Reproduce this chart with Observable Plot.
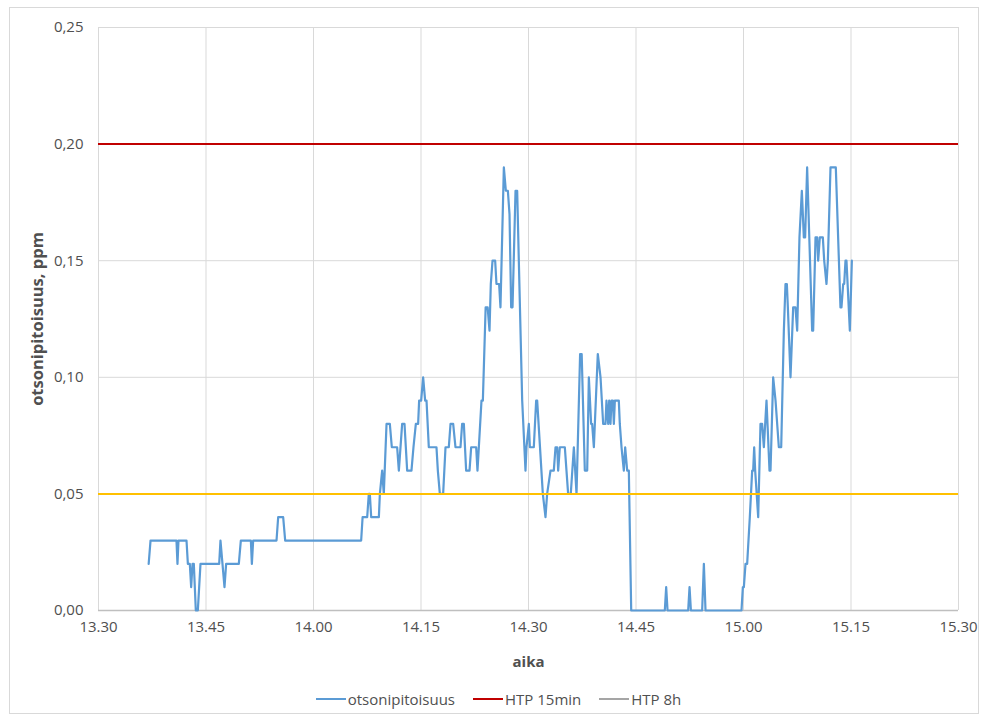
<!DOCTYPE html>
<html>
<head>
<meta charset="utf-8">
<script src="https://cdn.jsdelivr.net/npm/d3@7"></script>
<script src="https://cdn.jsdelivr.net/npm/@observablehq/plot@0.6"></script>
<style>
  html, body { margin: 0; padding: 0; background: #fff; }
  #chart { position: relative; width: 987px; height: 720px; font-family: "Open Sans", sans-serif; color: #505050; overflow: hidden; }
  #frame { position: absolute; left: 9px; top: 7px; width: 970px; height: 707px; border: 1px solid #d9d9d9; box-sizing: border-box; }
  #plot { position: absolute; left: 0; top: 0; }
  #plot svg { background: transparent; overflow: visible; }
  g[aria-label="x-axis label"] text { font-weight: 700; }
  g[aria-label="y-axis label"] text { font-weight: 700; font-size: 16.5px; }
  #legend { position: absolute; left: 0; top: 688px; width: 987px; height: 22px; display: flex; justify-content: center; align-items: center; padding-left: 10px; box-sizing: border-box; font-size: 15px; color: #505050; }
  .item { display: flex; align-items: center; margin: 0 9px; }
  .sw { width: 30px; height: 2.5px; margin-right: 2px; }
</style>
</head>
<body>
<div id="chart">
  <div id="frame"></div>
  <div id="plot"></div>
  <div id="legend"></div>
</div>
<script>
// time in minutes after 13.30
const timeMin = [
  7.0, 7.26, 10.88, 11.02, 11.16, 12.28, 12.47, 12.74, 12.93, 13.12, 13.3, 13.58, 13.86, 14.23,
  16.84, 17.02, 17.3, 17.58, 17.81, 19.58, 19.86, 21.26, 21.4, 21.58, 24.84, 25.07, 25.77, 26.05,
  36.65, 36.85, 37.49, 37.72, 37.86, 38.05, 39.12, 39.26, 39.58, 39.81, 40.19, 40.65, 40.93,
  41.67, 41.91, 42.37, 42.7, 43.07, 43.67, 43.95, 44.28, 44.6, 44.74, 45.02, 45.3, 45.58, 45.77,
  46.09, 47.16, 47.35, 47.63, 48.09, 48.42, 48.88, 49.12, 49.49, 49.81, 50.51, 50.74, 50.98,
  51.3, 51.77, 52.0, 52.7, 52.88, 53.07, 53.44, 53.63, 54.02, 54.3, 54.56, 54.74, 54.98, 55.35,
  55.53, 55.9, 56.09, 56.56, 56.84, 57.12, 57.35, 57.58, 57.77, 58.19, 58.42, 58.65, 59.12,
  59.58, 59.72, 60.05, 60.19, 60.74, 61.07, 61.21, 62.0, 62.37, 62.6, 63.07, 63.53, 63.77, 64.0,
  64.14, 64.37, 65.07, 65.3, 65.53, 65.9, 66.33, 66.7, 67.2, 67.42, 67.86, 68.19, 68.42, 68.74,
  68.88, 69.12, 69.67, 70.05, 70.42, 70.74, 70.88, 71.12, 71.26, 71.44, 71.58, 71.77, 71.91,
  72.05, 72.6, 72.74, 72.98, 73.3, 73.49, 73.77, 74.0, 74.33,
  79.02, 79.21, 79.4, 82.28, 82.47, 82.66, 84.23, 84.47, 84.7,
  89.72, 89.91, 90.05, 90.28, 90.51, 90.88, 91.21, 91.35, 91.49, 91.63, 92.05, 92.37, 92.6,
  92.84, 93.21, 93.63, 93.77, 94.14, 94.47, 94.93, 95.26, 95.63, 95.86, 96.05, 96.19, 96.56,
  96.93, 97.25, 97.49, 97.81, 98.14, 98.42, 98.6, 98.88, 99.58, 99.72, 100.05, 100.28, 100.42,
  100.65, 101.07, 101.26, 101.58, 101.77, 102.14, 102.88, 103.53, 103.67, 103.91, 104.05,
  104.23, 104.37, 104.84, 105.12
];
// ozone concentration, ppm
const ozonePpm = [
  0.02, 0.03, 0.03, 0.02, 0.03, 0.03, 0.02, 0.02, 0.01, 0.02, 0.02, 0, 0, 0.02,
  0.02, 0.03, 0.02, 0.01, 0.02, 0.02, 0.03, 0.03, 0.02, 0.03, 0.03, 0.04, 0.04, 0.03,
  0.03, 0.04, 0.04, 0.05, 0.05, 0.04, 0.04, 0.05, 0.06, 0.05, 0.08, 0.08, 0.07,
  0.07, 0.06, 0.08, 0.08, 0.06, 0.06, 0.07, 0.08, 0.08, 0.09, 0.09, 0.10, 0.09, 0.09,
  0.07, 0.07, 0.06, 0.05, 0.05, 0.07, 0.07, 0.08, 0.08, 0.07, 0.07, 0.08, 0.08,
  0.06, 0.06, 0.07, 0.07, 0.06, 0.07, 0.09, 0.09, 0.13, 0.13, 0.12, 0.14, 0.15, 0.15,
  0.14, 0.14, 0.13, 0.19, 0.18, 0.18, 0.17, 0.13, 0.13, 0.18, 0.18, 0.15, 0.09,
  0.06, 0.07, 0.08, 0.07, 0.07, 0.09, 0.09, 0.05, 0.04, 0.05, 0.06, 0.06, 0.07, 0.07,
  0.06, 0.07, 0.07, 0.06, 0.05, 0.05, 0.07, 0.05, 0.11, 0.11, 0.06, 0.06, 0.10, 0.08,
  0.08, 0.07, 0.11, 0.10, 0.08, 0.08, 0.09, 0.08, 0.09, 0.08, 0.09, 0.09, 0.08,
  0.09, 0.09, 0.08, 0.07, 0.06, 0.07, 0.06, 0.06, 0,
  0, 0.01, 0, 0, 0.01, 0, 0, 0.02, 0,
  0, 0.01, 0.01, 0.02, 0.02, 0.04, 0.06, 0.06, 0.07, 0.06, 0.04, 0.08, 0.08,
  0.07, 0.09, 0.06, 0.06, 0.10, 0.09, 0.07, 0.07, 0.12, 0.14, 0.14, 0.13, 0.10,
  0.13, 0.13, 0.12, 0.16, 0.18, 0.16, 0.16, 0.19, 0.12, 0.12, 0.16, 0.16, 0.15,
  0.16, 0.16, 0.15, 0.14, 0.15, 0.19, 0.19, 0.13, 0.13, 0.14, 0.14,
  0.15, 0.15, 0.12, 0.15
];
const htp15min = [0.20];
const htp8h = [0.05];
const xTicks = [0, 15, 30, 45, 60, 75, 90, 105, 120];
const xTickLabels = ["13.30", "13.45", "14.00", "14.15", "14.30", "14.45", "15.00", "15.15", "15.30"];
const yTicks = [0, 0.05, 0.10, 0.15, 0.20, 0.25];
const yTickLabels = ["0,00", "0,05", "0,10", "0,15", "0,20", "0,25"];
const seriesNames = ["otsonipitoisuus", "HTP 15min", "HTP 8h"];
const legendColors = ["#5b9bd5", "#c00000", "#a5a5a5"];

const series = timeMin.map((t, i) => ({t, v: ozonePpm[i]}));

const chart = Plot.plot({
  width: 987,
  height: 680,
  marginLeft: 98,
  marginRight: 29,
  marginTop: 27,
  marginBottom: 70,
  style: {fontFamily: "'Open Sans', sans-serif", fontSize: "15px", color: "#505050", background: "transparent"},
  x: {domain: [0, 120]},
  y: {domain: [0, 0.25]},
  marks: [
    Plot.gridX(xTicks, {stroke: "#d9d9d9", strokeOpacity: 1, strokeWidth: 1}),
    Plot.gridY(yTicks.slice(1), {stroke: "#d9d9d9", strokeOpacity: 1, strokeWidth: 1}),
    Plot.ruleY([0], {stroke: "#bfbfbf", strokeWidth: 1.5}),
    Plot.axisX(xTicks, {
      tickSize: 0, tickPadding: 11,
      tickFormat: d => xTickLabels[xTicks.indexOf(d)],
      label: "aika", labelAnchor: "center", labelArrow: "none", labelOffset: 56
    }),
    Plot.axisY(yTicks, {
      tickSize: 0, tickPadding: 15,
      tickFormat: d => yTickLabels[yTicks.indexOf(d)],
      label: "otsonipitoisuus, ppm", labelAnchor: "center", labelArrow: "none", labelOffset: 67
    }),
    Plot.ruleY(htp15min, {stroke: "#c00000", strokeWidth: 2}),
    Plot.line(series, {x: "t", y: "v", stroke: "#5b9bd5", strokeWidth: 2.2, strokeLinejoin: "round"}),
    Plot.ruleY(htp8h, {stroke: "#ffc000", strokeWidth: 2})
  ]
});
document.getElementById("plot").appendChild(chart);

const legend = document.getElementById("legend");
seriesNames.forEach((name, i) => {
  const item = document.createElement("div");
  item.className = "item";
  const sw = document.createElement("div");
  sw.className = "sw";
  sw.style.background = legendColors[i];
  const tx = document.createElement("span");
  tx.textContent = name;
  item.appendChild(sw);
  item.appendChild(tx);
  legend.appendChild(item);
});
</script>
</body>
</html>
